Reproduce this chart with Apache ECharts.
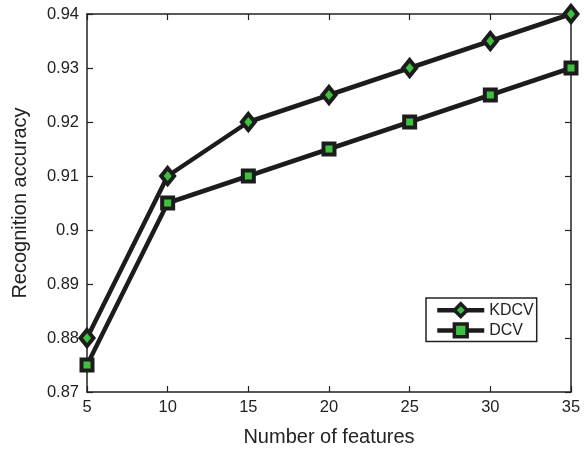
<!DOCTYPE html>
<html><head><meta charset="utf-8">
<script src="https://cdn.jsdelivr.net/npm/echarts@6/dist/echarts.min.js"></script>
<style>html,body{margin:0;padding:0;background:#fff}#c{width:588px;height:452px}</style>
</head><body><div id="c"></div>
<script>
const features = [5, 10, 15, 20, 25, 30, 35];
const kdcv = [0.88, 0.91, 0.92, 0.925, 0.93, 0.935, 0.94];
const dcv = [0.875, 0.905, 0.91, 0.915, 0.92, 0.925, 0.93];
const yTicks = ['0.87','0.88','0.89','0.9','0.91','0.92','0.93','0.94'];

const chart = echarts.init(document.getElementById('c'), null, {renderer: 'canvas'});
const font = 'Liberation Sans, Arial, Helvetica, sans-serif';
const axisLine = {show: true, lineStyle: {color: '#222', width: 1.5}};
const tick = {show: true, inside: true, length: 6, lineStyle: {color: '#222', width: 1.2}};
chart.setOption({
  animation: false,
  grid: {left: 87, right: 17, top: 14, bottom: 58},
  xAxis: [{
    type: 'value', min: 5, max: 35, interval: 5,
    name: 'Number of features', nameLocation: 'middle', nameGap: 35,
    nameTextStyle: {fontFamily: font, fontSize: 20, color: '#222'},
    axisLine: axisLine, axisTick: tick, splitLine: {show: false},
    axisLabel: {fontFamily: font, fontSize: 16.5, color: '#222', margin: 7}
  }, {
    type: 'value', min: 5, max: 35, interval: 5, position: 'top',
    axisLine: axisLine, axisTick: tick, splitLine: {show: false}, axisLabel: {show: false}
  }],
  yAxis: [{
    type: 'value', min: 0.87, max: 0.94, interval: 0.01,
    name: 'Recognition accuracy', nameLocation: 'middle', nameGap: 57,
    nameTextStyle: {fontFamily: font, fontSize: 20, color: '#222'},
    axisLine: axisLine, axisTick: tick, splitLine: {show: false},
    axisLabel: {fontFamily: font, fontSize: 16.5, color: '#222', margin: 8,
      formatter: function(v){ const i = Math.round((v-0.87)*100); return yTicks[i] !== undefined ? yTicks[i] : String(v); }}
  }, {
    type: 'value', min: 0.87, max: 0.94, interval: 0.01, position: 'right',
    axisLine: axisLine, axisTick: tick, splitLine: {show: false}, axisLabel: {show: false}
  }],
  legend: {
    orient: 'vertical', left: 426, top: 298,
    padding: [4, 3, 3, 9], itemGap: 4,
    borderColor: '#222', borderWidth: 1.5, backgroundColor: '#fff', borderRadius: 0,
    itemWidth: 47, itemHeight: 16,
    lineStyle: {width: 4.5, color: '#1c1c1c'},
    itemStyle: {borderColor: '#1c1c1c', borderWidth: 3.5},
    textStyle: {fontFamily: font, fontSize: 16, color: '#222', padding: [0,0,0,0]},
    data: ['KDCV', 'DCV']
  },
  series: [{
    name: 'KDCV', type: 'line', clip: false,
    data: features.map((f, i) => [f, kdcv[i]]),
    symbol: 'diamond', symbolSize: [13, 16],
    lineStyle: {color: '#1c1c1c', width: 4.5},
    itemStyle: {color: '#40c040', borderColor: '#1c1c1c', borderWidth: 4}
  }, {
    name: 'DCV', type: 'line', clip: false,
    data: features.map((f, i) => [f, dcv[i]]),
    symbol: 'rect', symbolSize: 11,
    lineStyle: {color: '#1c1c1c', width: 4.5},
    itemStyle: {color: '#40c040', borderColor: '#1c1c1c', borderWidth: 4}
  }]
});
</script></body></html>
